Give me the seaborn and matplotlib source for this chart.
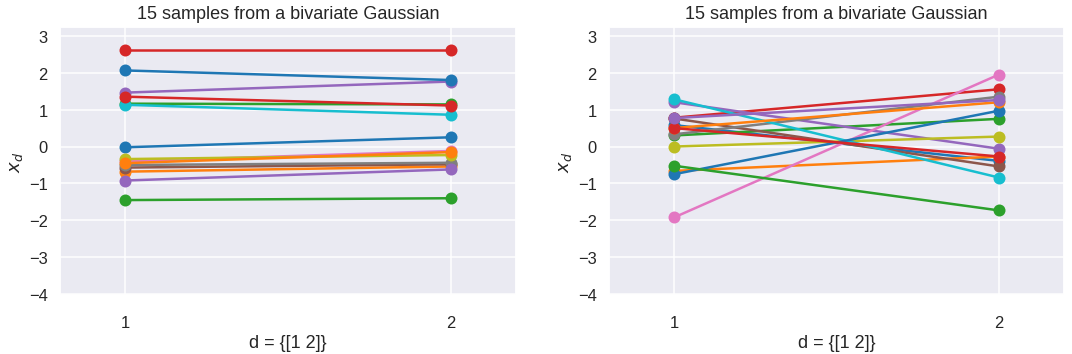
import numpy as np
import pandas as pd
import matplotlib
matplotlib.use("Agg")
import matplotlib.pyplot as plt
import seaborn as sns

sns.set_theme(style="darkgrid", context="talk")
plt.rcParams["font.family"] = ["Liberation Sans", "DejaVu Sans"]

# ------------------------------------------------------------------
# DATA  (one entry per sample)
# ------------------------------------------------------------------
dims = [1, 2]

# left panel: strongly correlated samples
left_x1 = [-0.02, -0.68, 1.16, 2.62, 1.46, -0.57, -0.40, -0.50, -0.34, 1.13,
           2.06, -0.45, -1.45, 1.35, -0.92]
left_x2 = [0.25, -0.54, 1.14, 2.62, 1.76, -0.48, -0.12, -0.44, -0.23, 0.86,
           1.80, -0.15, -1.40, 1.11, -0.62]

# right panel: weakly correlated samples
right_x1 = [0.58, -0.66, 0.30, 0.78, 1.20, 0.76, -1.92, 0.33, 0.00, 1.28,
            -0.75, 0.50, -0.52, 0.50, 0.77]
right_x2 = [-0.39, -0.27, 0.75, 1.55, -0.06, -0.54, 1.95, 1.35, 0.27, -0.84,
            0.97, 1.20, -1.73, -0.27, 1.26]

title = "15 samples from a bivariate Gaussian"
xlabel = "d = {[1 2]}"


def to_long(x1, x2):
    n = len(x1)
    return pd.DataFrame({
        "sample": np.repeat(np.arange(n), 2),
        "d": dims * n,
        "x": np.column_stack([x1, x2]).ravel(),
    })


fig = plt.figure(figsize=(14.89, 4.93), dpi=72)
ax1 = fig.add_axes([0.0560, 0.1662, 0.4254, 0.7549])
ax2 = fig.add_axes([0.5681, 0.1662, 0.4244, 0.7549])

palette = sns.color_palette("tab10", 15)

for ax, (x1, x2) in zip([ax1, ax2], [(left_x1, left_x2), (right_x1, right_x2)]):
    df = to_long(x1, x2)
    sns.lineplot(data=df, x="d", y="x", hue="sample", palette=palette,
                 marker="o", markersize=12, markeredgewidth=0,
                 linewidth=2.5, legend=False, ax=ax)
    ax.set_xlim(0.8, 2.2)
    ax.set_ylim(-4.02, 3.235)
    ax.set_xticks(dims)
    ax.set_yticks(range(-4, 4))
    ax.set_title(title, fontsize=18, pad=9)
    ax.set_xlabel(xlabel, fontsize=18)
    ax.set_ylabel("$x_d$", fontsize=18)
    ax.tick_params(labelsize=16.5)
    ax.tick_params(axis="x", pad=11)

fig.savefig("out.png", dpi=72)
